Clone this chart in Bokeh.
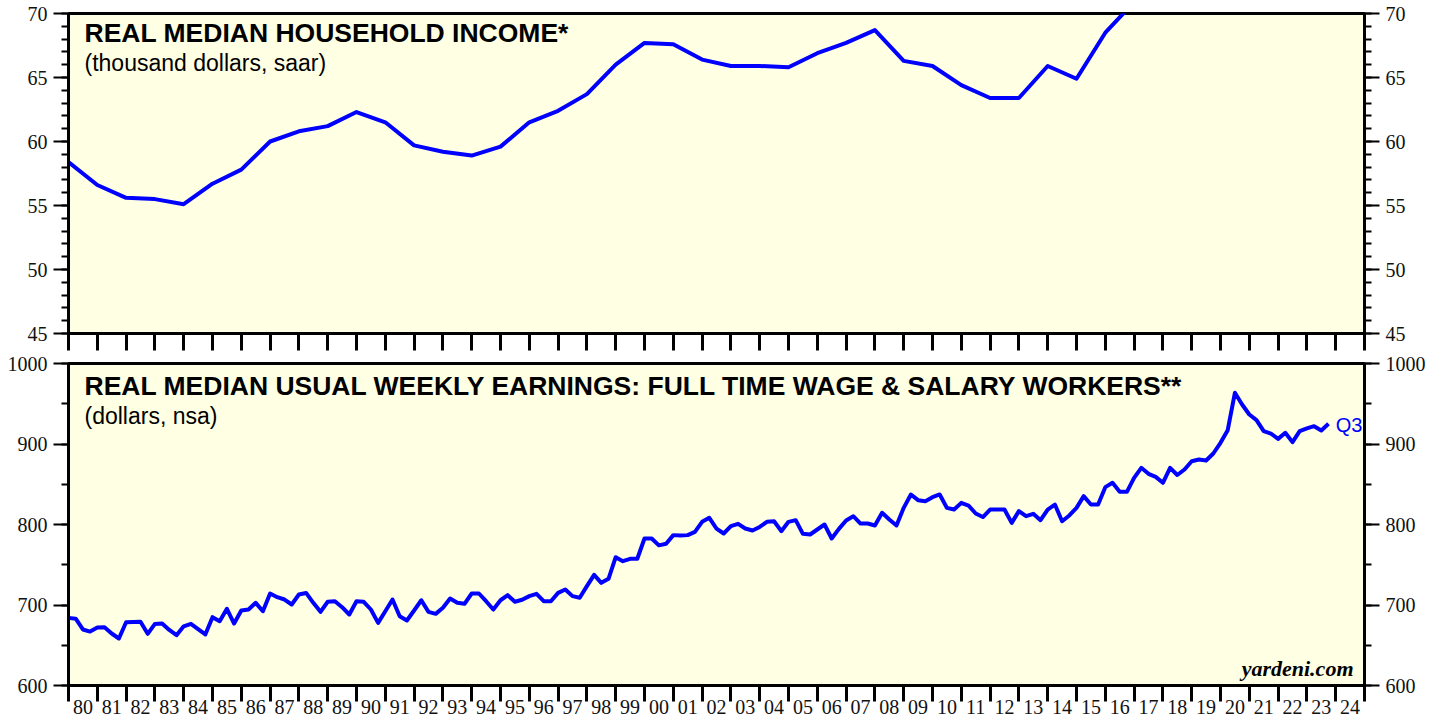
from bokeh.plotting import figure
from bokeh.models import LinearAxis, FixedTicker, Range1d, Label
from bokeh.layouts import column
from bokeh.embed import file_html
from bokeh.resources import INLINE

# ---------------- data ----------------
INCOME_YEARS = list(range(1980, 2018))
INCOME = [58.4, 56.6, 55.6, 55.5, 55.1, 56.7, 57.8, 60.0, 60.8, 61.2,
          62.3, 61.5, 59.7, 59.2, 58.9, 59.6, 61.5, 62.4, 63.7, 66.0,
          67.7, 67.6, 66.4, 65.9, 65.9, 65.8, 66.9, 67.7, 68.7, 66.3,
          65.9, 64.4, 63.4, 63.4, 65.9, 64.9, 68.5, 70.9]

EARN_FIRST_YEAR = 1979
EARN_FIRST_QUARTER = 4
EARNINGS = [684.0, 683.0, 669.6, 667.0, 672.0, 672.4, 664.6, 658.4, 678.6, 679.0,
            679.1, 664.2, 676.5, 677.0, 669.0, 662.5, 673.5, 676.6, 670.0, 663.4,
            684.9, 679.9, 695.3, 677.0, 693.2, 694.4, 702.7, 692.3, 714.3, 709.7,
            706.8, 700.6, 713.0, 715.0, 702.7, 691.5, 704.0, 704.7, 697.3, 688.2,
            704.7, 704.0, 694.4, 677.8, 692.3, 706.8, 686.1, 680.7, 693.2, 705.9,
            691.5, 689.0, 696.5, 708.1, 702.7, 701.5, 714.3, 714.3, 704.7, 694.4,
            705.9, 712.2, 704.0, 706.5, 711.0, 713.9, 704.7, 704.7, 715.0, 719.3,
            711.0, 709.0, 723.4, 737.5, 727.5, 732.5, 759.4, 754.4, 757.4, 757.4,
            782.6, 782.6, 774.1, 776.0, 786.8, 786.3, 786.8, 790.9, 803.3, 808.3,
            795.0, 788.8, 797.9, 800.8, 795.0, 792.5, 797.0, 803.3, 804.0, 791.7,
            803.3, 805.4, 788.4, 787.6, 793.8, 800.0, 782.6, 794.6, 805.0, 810.3,
            801.2, 801.2, 798.8, 814.5, 806.2, 798.8, 820.7, 837.3, 830.2, 829.0,
            834.0, 837.3, 820.7, 818.6, 826.9, 823.6, 813.7, 809.3, 818.6, 818.6,
            818.6, 802.0, 816.6, 810.3, 813.3, 805.4, 818.6, 824.8, 804.0, 811.2,
            820.7, 835.2, 824.8, 824.8, 846.4, 851.8, 840.6, 840.6, 858.0, 870.4,
            863.0, 859.2, 851.8, 870.4, 861.5, 868.3, 878.6, 880.7, 879.5, 888.2,
            901.5, 917.2, 963.6, 949.1, 936.6, 929.6, 915.9, 913.0, 906.4, 913.9,
            902.3, 915.9, 919.3, 922.1, 916.8, 925.1]

YEAR_LABELS = ["80", "81", "82", "83", "84", "85", "86", "87", "88", "89",
               "90", "91", "92", "93", "94", "95", "96", "97", "98", "99",
               "00", "01", "02", "03", "04", "05", "06", "07", "08", "09",
               "10", "11", "12", "13", "14", "15", "16", "17", "18", "19",
               "20", "21", "22", "23", "24"]

TOP_TITLE = "REAL MEDIAN HOUSEHOLD INCOME*"
TOP_SUB = "(thousand dollars, saar)"
BOT_TITLE = "REAL MEDIAN USUAL WEEKLY EARNINGS: FULL TIME WAGE & SALARY WORKERS**"
BOT_SUB = "(dollars, nsa)"
LAST_LABEL = "Q3"
CREDIT = "yardeni.com"

# quarter positions (end of quarter)
earn_x = []
yr, q = EARN_FIRST_YEAR, EARN_FIRST_QUARTER
for _ in EARNINGS:
    earn_x.append(yr + q / 4.0)
    q += 1
    if q > 4:
        q = 1
        yr += 1

X0, X1 = 1980, 2025
BG = "#FFFFE3"
BLUE = "#0000FF"
SERIF = "Liberation Serif"
SANS = "Liberation Sans"


def make_fig(frame_h, ymin, ymax, btop, bbot):
    p = figure(frame_width=1296, frame_height=frame_h,
               x_range=Range1d(X0, X1), y_range=Range1d(ymin, ymax),
               output_backend="svg", toolbar_location=None,
               x_axis_type=None, y_axis_type=None,
               min_border_left=68, min_border_right=68,
               min_border_top=btop, min_border_bottom=bbot,
               background_fill_color=BG, border_fill_color="white")
    p.outline_line_color = "black"
    p.outline_line_width = 3
    return p


def add_y_axes(p, majors, minors):
    for side in ("left", "right"):
        ax = LinearAxis(ticker=FixedTicker(ticks=majors, minor_ticks=minors))
        ax.axis_line_color = "black"
        ax.axis_line_width = 3
        ax.major_tick_in = 0
        ax.major_tick_out = 15
        ax.minor_tick_in = 0
        ax.minor_tick_out = 7
        ax.major_tick_line_width = 2
        ax.minor_tick_line_width = 2
        ax.major_label_text_font = SERIF
        ax.major_label_text_font_size = "20px"
        ax.major_label_text_color = "#111111"
        ax.major_label_standoff = 6
        p.add_layout(ax, side)


# ---------------- top panel ----------------
p1 = make_fig(320, 45, 70, 13, 18)
add_y_axes(p1, list(range(45, 71, 5)), list(range(45, 71, 1)))
xa1 = LinearAxis(ticker=FixedTicker(ticks=[], minor_ticks=list(range(X0, X1 + 1))))
xa1.axis_line_color = "black"
xa1.axis_line_width = 3
xa1.major_tick_in = 0
xa1.major_tick_out = 0
xa1.minor_tick_in = 0
xa1.minor_tick_out = 17
xa1.minor_tick_line_width = 3
xa1.major_label_standoff = 0
p1.add_layout(xa1, "below")

p1.line(INCOME_YEARS, INCOME, line_color=BLUE, line_width=4, line_join="round")

p1.add_layout(Label(x=X0 + 16 / 28.8, y=70 - 19 / 12.8, text=TOP_TITLE,
                    text_font=SANS, text_font_style="bold", text_font_size="26.5px",
                    text_color="black", text_baseline="middle"))
p1.add_layout(Label(x=X0 + 16 / 28.8, y=70 - 49 / 12.8, text=TOP_SUB,
                    text_font=SANS, text_font_size="23px",
                    text_color="black", text_baseline="middle"))

# ---------------- bottom panel ----------------
p2 = make_fig(322, 600, 1000, 12, 30)
add_y_axes(p2, list(range(600, 1001, 100)), list(range(600, 1001, 50)))
xa2 = LinearAxis(ticker=FixedTicker(ticks=[X0 + i + 0.5 for i in range(len(YEAR_LABELS))],
                                    minor_ticks=list(range(X0, X1 + 1))))
xa2.axis_line_color = "black"
xa2.axis_line_width = 3
xa2.major_tick_in = 0
xa2.major_tick_out = 0
xa2.minor_tick_in = 0
xa2.minor_tick_out = 16
xa2.minor_tick_line_width = 3
xa2.major_label_overrides = {X0 + i + 0.5: lab for i, lab in enumerate(YEAR_LABELS)}
xa2.major_label_text_font = SERIF
xa2.major_label_text_font_size = "20px"
xa2.major_label_text_color = "#111111"
xa2.major_label_standoff = -2
p2.add_layout(xa2, "below")

p2.line(earn_x, EARNINGS, line_color=BLUE, line_width=4, line_join="round")

p2.add_layout(Label(x=X0 + 16 / 28.8, y=1000 - 22 / 0.805, text=BOT_TITLE,
                    text_font=SANS, text_font_style="bold", text_font_size="26.5px",
                    text_color="black", text_baseline="middle"))
p2.add_layout(Label(x=X0 + 16 / 28.8, y=1000 - 52 / 0.805, text=BOT_SUB,
                    text_font=SANS, text_font_size="23px",
                    text_color="black", text_baseline="middle"))
p2.add_layout(Label(x=earn_x[-1] + 0.25, y=EARNINGS[-1] - 1, text=LAST_LABEL,
                    text_font=SANS, text_font_size="20px",
                    text_color=BLUE, text_baseline="middle"))
p2.add_layout(Label(x=X1 - 11 / 28.8, y=1000 - 305 / 0.805, text=CREDIT,
                    text_font=SERIF, text_font_style="bold italic", text_font_size="22px",
                    text_color="black", text_baseline="middle", text_align="right"))

layout = column(p1, p2, spacing=0)
open("out.html", "w").write(file_html(layout, INLINE))
